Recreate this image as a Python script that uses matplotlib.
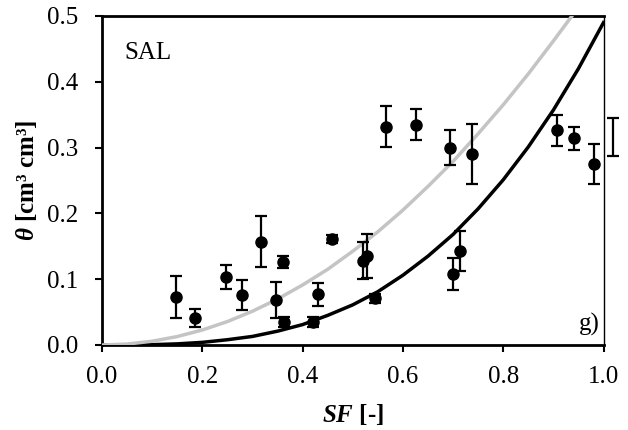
import matplotlib
matplotlib.use('Agg')
import matplotlib.pyplot as plt

plt.rcParams['font.family'] = ['Liberation Serif', 'DejaVu Serif']
plt.rcParams['mathtext.fontset'] = 'custom'
plt.rcParams['mathtext.rm'] = 'Liberation Serif'
plt.rcParams['mathtext.it'] = 'Liberation Serif:italic'
plt.rcParams['mathtext.bf'] = 'Liberation Serif:bold'
plt.rcParams['mathtext.bfit'] = 'Liberation Serif:bold:italic'

# measured points (SF, theta, error)
sf = [0.148, 0.186, 0.247, 0.279, 0.318, 0.361, 0.347, 0.363, 0.421, 0.431,
      0.458, 0.520, 0.528, 0.544, 0.700, 0.714, 0.566, 0.626, 0.693, 0.738,
      0.907, 0.942, 0.982]
theta = [0.073, 0.041, 0.103, 0.076, 0.157, 0.126, 0.068, 0.035, 0.035, 0.077,
         0.161, 0.128, 0.135, 0.071, 0.108, 0.143, 0.332, 0.335, 0.300, 0.290,
         0.326, 0.314, 0.275]
err = [0.032, 0.013, 0.018, 0.023, 0.039, 0.009, 0.027, 0.008, 0.007, 0.017,
       0.006, 0.028, 0.033, 0.007, 0.024, 0.030, 0.031, 0.024, 0.027, 0.046,
       0.023, 0.017, 0.031]

# lone error bar just outside the frame
sf_out = [1.018]
theta_out = [0.3165]
err_out = [0.029]

# model curves
curve_x = [0.0, 0.05, 0.1, 0.15, 0.2, 0.25, 0.3, 0.35, 0.4, 0.45, 0.5, 0.55,
           0.6, 0.65, 0.7, 0.75, 0.8, 0.85, 0.9, 0.95, 1.0]
black_y = [0.0, 0.0001, 0.0005, 0.0017, 0.004, 0.008, 0.013, 0.021, 0.031,
           0.045, 0.061, 0.081, 0.106, 0.135, 0.168, 0.207, 0.251, 0.301,
           0.357, 0.420, 0.49]
gray_x = [0.0, 0.05, 0.1, 0.15, 0.2, 0.25, 0.3, 0.35, 0.4, 0.45, 0.5, 0.55,
          0.6, 0.65, 0.7, 0.75, 0.8, 0.85, 0.9, 0.937]
gray_y = [0.0, 0.0014, 0.0057, 0.0128, 0.0228, 0.0356, 0.0513, 0.0698, 0.0912,
          0.115, 0.1425, 0.172, 0.205, 0.241, 0.279, 0.321, 0.365, 0.412,
          0.462, 0.5]

fig = plt.figure(figsize=(6.28, 4.30), dpi=100)
ax = fig.add_axes([0.1624, 0.1977, 0.7986, 0.7651])

ax.plot(curve_x, black_y, color='black', lw=2.5, zorder=3)
ax.plot(gray_x, gray_y, color='#c4c4c4', lw=2.5, zorder=3)

ax.errorbar(sf, theta, yerr=err, fmt='o', color='black', ms=8,
            elinewidth=1.6, capsize=4.3, capthick=1.6, zorder=4)
ax.errorbar(sf_out, theta_out, yerr=err_out, fmt='none', ecolor='black',
            elinewidth=1.6, capsize=4.3, capthick=1.6, clip_on=False, zorder=4)

ax.set_xlim(0, 1.0)
ax.set_ylim(0, 0.5)
ax.set_xticks([0.0, 0.2, 0.4, 0.6, 0.8, 1.0])
ax.set_yticks([0.0, 0.1, 0.2, 0.3, 0.4, 0.5])
ax.set_xticklabels(['0.0', '0.2', '0.4', '0.6', '0.8', '1.0'])
ax.set_yticklabels(['0.0', '0.1', '0.2', '0.3', '0.4', '0.5'])
ax.tick_params(direction='out', length=5, width=1.5, labelsize=18)
ax.tick_params(axis='x', pad=10)
ax.tick_params(axis='y', pad=12)

for s in ['left', 'bottom', 'top']:
    ax.spines[s].set_linewidth(2)
ax.spines['right'].set_linewidth(1)

ax.set_xlabel(r'$\mathbfit{SF}$ [-]', fontsize=18, fontweight='bold', labelpad=10)
ax.set_ylabel(r'$\mathbfit{\theta}$ [cm³ cm³]', fontsize=18, fontweight='bold', labelpad=6)

ax.text(0.044, 0.461, 'SAL', fontsize=18, ha='left', va='top')
ax.text(0.993, 0.013, 'g)', fontsize=18, ha='right', va='bottom')

fig.savefig('out.png', dpi=100)
